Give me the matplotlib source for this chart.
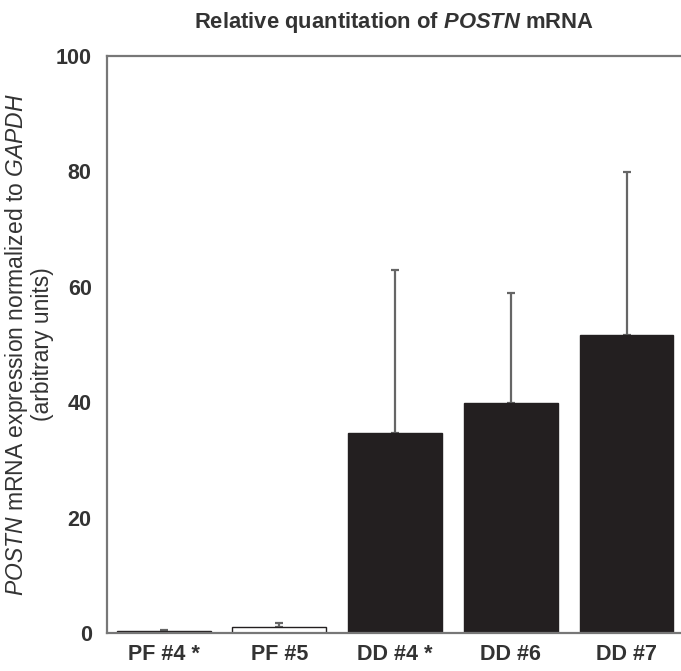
import matplotlib
matplotlib.use("Agg")
import matplotlib.pyplot as plt

# values
samples = ["PF #4 *", "PF #5", "DD #4 *", "DD #6", "DD #7"]
means = [0.3, 1.0, 34.7, 39.8, 51.6]
errors = [0.3, 0.8, 28.2, 19.1, 28.3]
fill_colors = ["#231f20", "white", "#231f20", "#231f20", "#231f20"]

plt.rcParams["font.family"] = ["Liberation Sans", "DejaVu Sans"]
plt.rcParams["mathtext.fontset"] = "custom"
plt.rcParams["mathtext.rm"] = "Liberation Sans"
plt.rcParams["mathtext.it"] = "Liberation Sans:italic"
plt.rcParams["mathtext.bf"] = "Liberation Sans:bold"
plt.rcParams["mathtext.bfit"] = "Liberation Sans:italic:bold"

text_color = "#333333"

fig = plt.figure(figsize=(6.81, 6.71), dpi=100)
ax = fig.add_axes([0.157, 0.0566, 0.843, 0.86])

x = list(range(len(samples)))
ax.bar(x, means, width=0.81, color=fill_colors, edgecolor="#231f20",
       linewidth=1.0, zorder=2)
ax.errorbar(x, means, yerr=[[0] * len(errors), errors], fmt="none",
            ecolor="#666666", elinewidth=1.6, capsize=3, capthick=1.6, zorder=1)

ax.set_xlim(-0.49, 4.47)
ax.set_ylim(0, 100)
ax.set_yticks([0, 20, 40, 60, 80, 100])
ax.set_xticks(x)
ax.set_xticklabels(samples)
ax.tick_params(length=0, labelsize=15.5, colors=text_color)
ax.tick_params(axis="x", pad=8)
ax.tick_params(axis="y", pad=11)
for lab in ax.get_xticklabels() + ax.get_yticklabels():
    lab.set_fontweight("bold")

for side in ["left", "top", "bottom"]:
    ax.spines[side].set_color("#777777")
    ax.spines[side].set_linewidth(1.6)
ax.spines["right"].set_visible(False)

ax.set_title(r"Relative quantitation of $\mathbfit{POSTN}$ mRNA", fontsize=15.8,
             fontweight="bold", color=text_color, pad=20)
ax.set_ylabel("$\\mathit{POSTN}$ mRNA expression normalized to $\\mathit{GAPDH}$\n(arbitrary units)",
              fontsize=16.5, color=text_color, labelpad=1, linespacing=1.05)

fig.savefig("out.png", dpi=100)
